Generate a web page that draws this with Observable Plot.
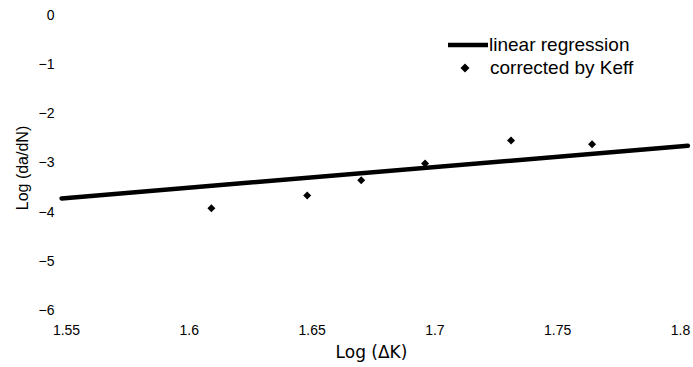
<!DOCTYPE html>
<html>
<head>
<meta charset="utf-8">
<script src="https://cdn.jsdelivr.net/npm/d3@7"></script>
<script src="https://cdn.jsdelivr.net/npm/@observablehq/plot@0.6"></script>
<style>
  html, body { margin: 0; padding: 0; background: #fff; }
  #wrap { position: relative; width: 693px; height: 367px; }
  g[aria-label="xtitle"] text { letter-spacing: 1.5px; }
  g[aria-label="ytitle"] text { letter-spacing: 0.8px; }
  .legend { position: absolute; font-family: "Liberation Sans", Arial, sans-serif; font-size: 19px; color: #000; }
  .legend .row { position: absolute; white-space: nowrap; display: flex; align-items: center; height: 22px; }
</style>
</head>
<body>
<div id="wrap"></div>
<script>
// Data
const logDK = [1.609, 1.648, 1.670, 1.696, 1.731, 1.764];
const logDadN = [-3.92, -3.66, -3.35, -3.01, -2.54, -2.62];
const regX = [1.548, 1.803];
const regY = [-3.72, -2.65];
const xTicks = [1.55, 1.6, 1.65, 1.7, 1.75, 1.8];
const xTickLabels = ["1.55", "1.6", "1.65", "1.7", "1.75", "1.8"];
const yTicks = [0, -1, -2, -3, -4, -5, -6];
const xTitle = "Log (ΔK)";
const yTitle = "Log (da/dN)";
const legendLabels = ["linear regression", "corrected by Keff"];

const points = logDK.map((x, i) => ({x, y: logDadN[i]}));
const reg = regX.map((x, i) => ({x, y: regY[i]}));

const chart = Plot.plot({
  width: 693,
  height: 367,
  marginLeft: 66,
  marginRight: 13,
  marginTop: 15,
  marginBottom: 57,
  style: {fontFamily: "'Liberation Sans', Arial, sans-serif", fontSize: "14px", background: "#fff", color: "#000"},
  x: {domain: [1.55, 1.8]},
  y: {domain: [-6, 0]},
  marks: [
    Plot.axisX({ticks: xTicks, tickFormat: (d, i) => xTickLabels[i], tickSize: 0, tickPadding: 15, label: null, fontSize: 14}),
    Plot.axisY({ticks: yTicks, tickFormat: d => d === 0 ? "0" : "−" + Math.abs(d), tickSize: 0, tickPadding: 12, label: null, fontSize: 14}),
    Plot.line(reg, {x: "x", y: "y", stroke: "#000", strokeWidth: 4.5, clip: false}),
    Plot.dot(points, {x: "x", y: "y", symbol: "diamond2", r: 3.6, fill: "#000", stroke: "none"}),
    Plot.text([xTitle], {frameAnchor: "bottom", dy: 47, dx: -2, fontSize: 17, fontFamily: "'DejaVu Sans', sans-serif", ariaLabel: "xtitle", fill: "#000"}),
    Plot.text([yTitle], {frameAnchor: "left", textAnchor: "middle", dx: -44, dy: 5, rotate: -90, fontSize: 16, ariaLabel: "ytitle", fill: "#000"})
  ]
});
const wrap = document.getElementById("wrap");
wrap.appendChild(chart);

// Legend (HTML overlay)
const legend = document.createElement("div");
legend.className = "legend";
legend.style.left = "0px"; legend.style.top = "0px";
const r1 = document.createElement("div");
r1.className = "row"; r1.style.left = "448px"; r1.style.top = "34px";
r1.innerHTML = `<svg width="40" height="22"><line x1="0" x2="40" y1="11" y2="11" stroke="#000" stroke-width="4.5"/></svg><span style="margin-left:1px">${legendLabels[0]}</span>`;
const r2 = document.createElement("div");
r2.className = "row"; r2.style.left = "448px"; r2.style.top = "57px";
r2.innerHTML = `<svg width="40" height="22"><path d="M17,6.5 L21.5,11 L17,15.5 L12.5,11 Z" fill="#000"/></svg><span style="margin-left:2px">${legendLabels[1]}</span>`;
legend.appendChild(r1); legend.appendChild(r2);
wrap.appendChild(legend);
</script>
</body>
</html>
